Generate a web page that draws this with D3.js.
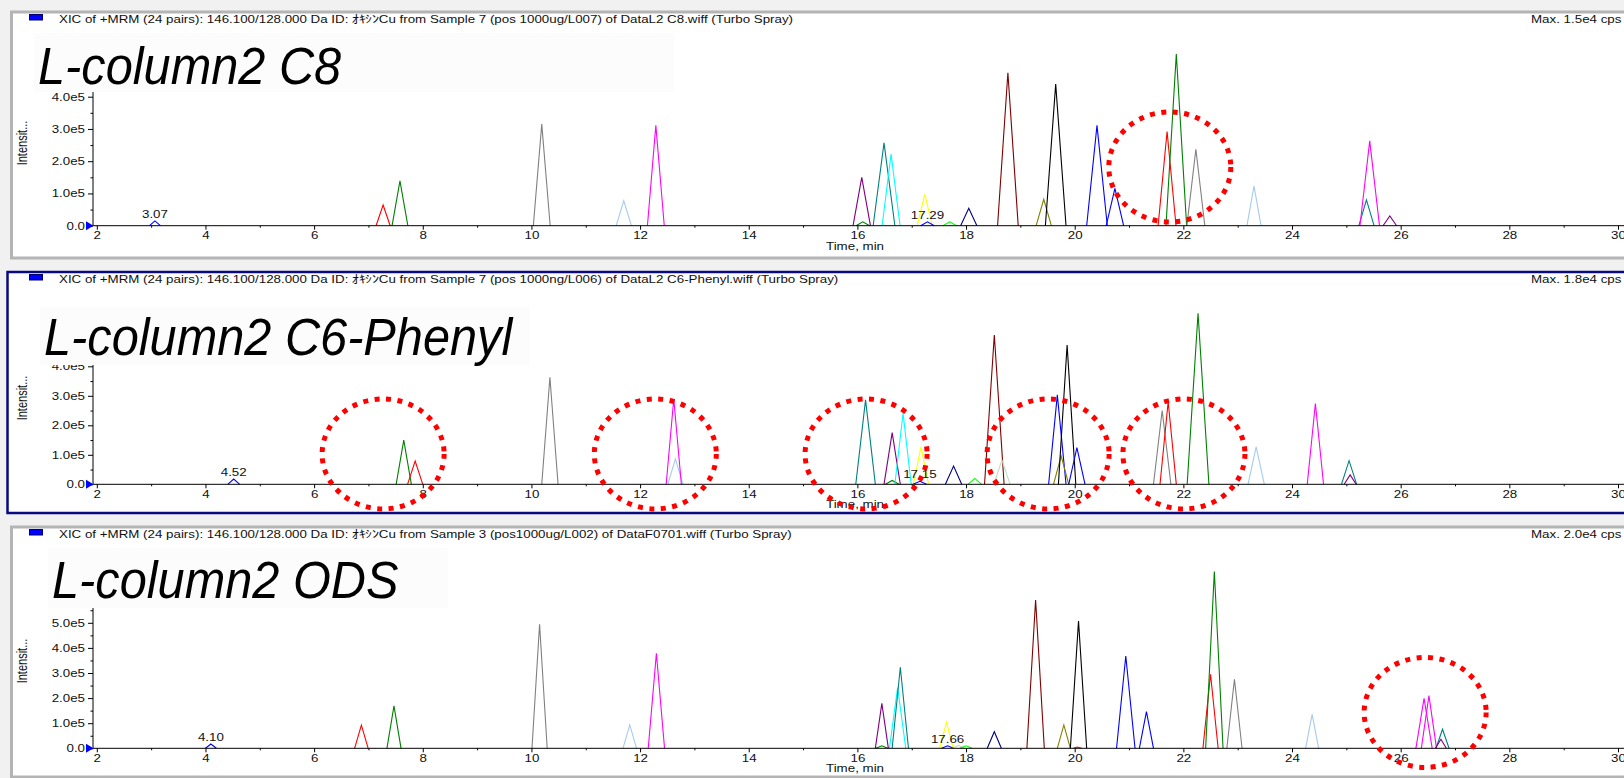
<!DOCTYPE html>
<html>
<head>
<meta charset="utf-8">
<script src="https://cdn.jsdelivr.net/npm/d3@7"></script>
<style>
  html, body { margin: 0; padding: 0; background: #f1f1f1; }
  svg { display: block; }
  text { font-family: "Liberation Sans", Arial, sans-serif; }
</style>
</head>
<body>
<svg id="chart" width="1624" height="778"></svg>
<script>
// ---------------- data ----------------
const timeTicks = [2, 4, 6, 8, 10, 12, 14, 16, 18, 20, 22, 24, 26, 28, 30];
const timeMinorTicks = [3, 5, 7, 9, 11, 13, 15, 17, 19, 21, 23, 25, 27, 29];

const intensityTicksC8 = [0, 1e5, 2e5, 3e5, 4e5];
const intensityTicksPhenyl = [0, 1e5, 2e5, 3e5, 4e5];
const intensityTicksODS = [0, 1e5, 2e5, 3e5, 4e5, 5e5];

const panelTitles = ["L-column2 C8", "L-column2 C6-Phenyl", "L-column2 ODS"];
const headerTexts = [
  "XIC of +MRM (24 pairs): 146.100/128.000 Da ID: ｵｷｼﾝCu from Sample 7 (pos 1000ug/L007) of DataL2 C8.wiff (Turbo Spray)",
  "XIC of +MRM (24 pairs): 146.100/128.000 Da ID: ｵｷｼﾝCu from Sample 7 (pos 1000ng/L006) of DataL2 C6-Phenyl.wiff (Turbo Spray)",
  "XIC of +MRM (24 pairs): 146.100/128.000 Da ID: ｵｷｼﾝCu from Sample 3 (pos1000ug/L002) of DataF0701.wiff (Turbo Spray)"
];
const maxTexts = ["Max. 1.5e4 cps", "Max. 1.8e4 cps", "Max. 2.0e4 cps"];

// Peak rows: [trace index, retention time (min), apex intensity (cps), base width (min)]
const peaksC8 = [
  [0, 3.07, 0.15e5, 0.20],
  [1, 7.27, 0.64e5, 0.26],
  [2, 7.58, 1.39e5, 0.29],
  [3, 10.19, 3.15e5, 0.31],
  [4, 11.70, 0.77e5, 0.28],
  [5, 12.29, 3.11e5, 0.31],
  [2, 16.10, 0.12e5, 0.25],
  [6, 16.08, 1.50e5, 0.32],
  [7, 16.49, 2.57e5, 0.40],
  [8, 16.62, 2.22e5, 0.33],
  [9, 17.24, 0.97e5, 0.28],
  [0, 17.29, 0.12e5, 0.25],
  [10, 17.70, 0.12e5, 0.25],
  [11, 18.05, 0.54e5, 0.30],
  [12, 18.77, 4.74e5, 0.38],
  [13, 19.43, 0.82e5, 0.28],
  [14, 19.65, 4.39e5, 0.38],
  [0, 20.41, 3.11e5, 0.38],
  [0, 20.74, 1.16e5, 0.32],
  [1, 21.70, 2.92e5, 0.33],
  [2, 21.87, 5.32e5, 0.38],
  [3, 22.23, 2.37e5, 0.33],
  [4, 23.30, 1.23e5, 0.26],
  [7, 25.37, 0.80e5, 0.28],
  [5, 25.43, 2.63e5, 0.36],
  [6, 25.80, 0.30e5, 0.25]
];
const peaksPhenyl = [
  [0, 4.52, 0.18e5, 0.22],
  [2, 7.65, 1.50e5, 0.28],
  [1, 7.86, 0.79e5, 0.28],
  [3, 10.34, 3.63e5, 0.30],
  [4, 12.65, 0.86e5, 0.28],
  [5, 12.62, 2.89e5, 0.28],
  [7, 16.15, 2.86e5, 0.36],
  [2, 16.64, 0.13e5, 0.25],
  [6, 16.64, 1.75e5, 0.30],
  [8, 16.84, 2.41e5, 0.30],
  [9, 17.17, 1.27e5, 0.28],
  [0, 17.15, 0.10e5, 0.25],
  [11, 17.77, 0.62e5, 0.30],
  [10, 18.16, 0.20e5, 0.25],
  [12, 18.52, 5.06e5, 0.36],
  [15, 18.66, 0.82e5, 0.30],
  [0, 19.68, 3.03e5, 0.32],
  [13, 19.75, 0.96e5, 0.28],
  [14, 19.86, 4.72e5, 0.32],
  [0, 20.04, 1.24e5, 0.30],
  [3, 21.61, 2.50e5, 0.32],
  [1, 21.72, 2.80e5, 0.30],
  [2, 22.27, 5.80e5, 0.40],
  [4, 23.34, 1.27e5, 0.30],
  [5, 24.43, 2.74e5, 0.30],
  [7, 25.05, 0.80e5, 0.28],
  [6, 25.07, 0.32e5, 0.22]
];
const peaksODS = [
  [0, 4.10, 0.17e5, 0.20],
  [1, 6.87, 0.92e5, 0.25],
  [2, 7.47, 1.69e5, 0.26],
  [3, 10.15, 4.94e5, 0.28],
  [4, 11.81, 0.93e5, 0.25],
  [5, 12.30, 3.78e5, 0.30],
  [2, 16.45, 0.10e5, 0.22],
  [6, 16.45, 1.79e5, 0.24],
  [8, 16.74, 2.42e5, 0.30],
  [7, 16.79, 3.23e5, 0.30],
  [9, 17.64, 1.04e5, 0.25],
  [0, 17.66, 0.10e5, 0.22],
  [15, 17.86, 0.12e5, 0.22],
  [10, 18.00, 0.10e5, 0.22],
  [11, 18.52, 0.66e5, 0.26],
  [12, 19.28, 5.91e5, 0.32],
  [13, 19.80, 0.93e5, 0.24],
  [1, 20.05, 0.05e5, 0.15],
  [14, 20.07, 5.07e5, 0.30],
  [0, 20.94, 3.68e5, 0.34],
  [0, 21.32, 1.46e5, 0.26],
  [1, 22.50, 2.95e5, 0.28],
  [2, 22.57, 7.04e5, 0.32],
  [3, 22.94, 2.75e5, 0.28],
  [4, 24.37, 1.35e5, 0.24],
  [5, 26.43, 1.99e5, 0.30],
  [5, 26.52, 2.10e5, 0.28],
  [7, 26.77, 0.76e5, 0.24],
  [6, 26.74, 0.36e5, 0.20]
];

// Retention times printed above peaks
const rtLabelsC8 = [3.07, 17.29];
const rtLabelsPhenyl = [4.52, 17.15];
const rtLabelsODS = [4.10, 17.66];

// Highlighted regions: [retention time (min), intensity (cps)] at ring centre
const ringsC8 = [[21.75, 1.82e5]];
const ringsPhenyl = [[7.27, 1.03e5], [12.28, 1.03e5], [16.16, 1.03e5], [19.51, 1.03e5], [22.01, 1.03e5]];
const ringsODS = [[26.45, 1.43e5]];

// ---------------- styles / layout ----------------
const traceColors = [
  "#0000ff", "#ff0000", "#008000", "#808080", "#a6caf0", "#ff00ff",
  "#800080", "#008080", "#00ffff", "#ffff00", "#00ff00", "#000080",
  "#800000", "#808000", "#000000", "#c0dcc0"
];

// the instrument's small print is rendered horizontally widened
const SX = 1.27;
const smallFont = 10.5;

const panels = [
  { peaks: peaksC8, ticks: intensityTicksC8, labels: rtLabelsC8, rings: ringsC8,
    top: 12, bottom: 258, frame: "#b4b4b4", frameX: 11.5, base: 225.7, pxPerUnit: 32.25,
    titleBox: [34, 33, 640, 59], titleX: 38, titleY: 83.5, intensY: 143 },
  { peaks: peaksPhenyl, ticks: intensityTicksPhenyl, labels: rtLabelsPhenyl, rings: ringsPhenyl,
    top: 272, bottom: 513, frame: "#0a0a80", frameX: 7.5, base: 484.3, pxPerUnit: 29.5,
    titleBox: [40, 307, 490, 58], titleX: 44, titleY: 355, intensY: 398 },
  { peaks: peaksODS, ticks: intensityTicksODS, labels: rtLabelsODS, rings: ringsODS,
    top: 527, bottom: 777, frame: "#b4b4b4", frameX: 11.5, base: 748.3, pxPerUnit: 25.1,
    titleBox: [48, 548, 400, 60], titleX: 52, titleY: 598, intensY: 661 }
];

const svg = d3.select("#chart");
const W = 1624;

const x = d3.scaleLinear().domain([1.93, 30]).range([93, 1618]);

const fmtIntensity = d => d === 0 ? "0.0" : (d / 1e5).toFixed(1) + "e5";

function yScaleFor(p) {
  const maxTick = d3.max(p.ticks);
  return d3.scaleLinear()
    .domain([0, maxTick])
    .range([p.base, p.base - (maxTick / 1e5) * p.pxPerUnit]);
}

panels.forEach((p, i) => {
  const g = svg.append("g");
  const maxTick = d3.max(p.ticks);
  const y = yScaleFor(p);

  // frame
  g.append("rect")
    .attr("x", p.frameX).attr("y", p.top)
    .attr("width", W + 20).attr("height", p.bottom - p.top)
    .attr("fill", "#ffffff")
    .attr("stroke", p.frame).attr("stroke-width", i === 1 ? 2.5 : 3);

  // header legend swatch and text
  g.append("rect")
    .attr("x", 29.5).attr("y", p.top + 2.5).attr("width", 13).attr("height", 5.5)
    .attr("fill", "#0000ff").attr("stroke", "#000066").attr("stroke-width", 1);
  g.append("text")
    .attr("transform", `translate(59,${p.top + 10.5}) scale(${SX},1)`)
    .attr("font-size", smallFont).attr("fill", "#111")
    .text(headerTexts[i]);
  g.append("text")
    .attr("transform", `translate(1531,${p.top + 10.5}) scale(${SX},1)`)
    .attr("font-size", smallFont).attr("fill", "#111")
    .text(maxTexts[i]);

  // chromatogram traces
  const line = d3.line().x(d => x(d[0])).y(d => y(d[1]));
  g.append("g")
    .selectAll("path")
    .data(p.peaks)
    .join("path")
    .attr("d", d => line([[d[1] - d[3] / 2, 0], [d[1], d[2]], [d[1] + d[3] / 2, 0]]))
    .attr("fill", "none")
    .attr("stroke", d => traceColors[d[0]])
    .attr("stroke-width", 1.1)
    .attr("stroke-linejoin", "miter");

  // x axis
  const xAxis = g.append("g").attr("transform", `translate(0,${p.base})`);
  xAxis.call(d3.axisBottom(x).tickValues(timeTicks).tickSize(4).tickPadding(2).tickFormat(d3.format("d")));
  xAxis.append("g").call(d3.axisBottom(x).tickValues(timeMinorTicks).tickSize(2).tickFormat(""))
    .select(".domain").remove();
  xAxis.selectAll(".domain").attr("d", `M93,0H${W + 5}`).attr("stroke", "#000");
  xAxis.selectAll("text")
    .attr("font-size", smallFont).attr("font-family", "\"Liberation Sans\", Arial, sans-serif")
    .attr("fill", "#111").attr("transform", `scale(${SX},1)`);

  // y axis
  const yAxis = g.append("g").attr("transform", "translate(93,0)");
  yAxis.call(d3.axisLeft(y).tickValues(p.ticks).tickSize(5).tickPadding(3).tickFormat(fmtIntensity));
  const minor = d3.range(0.5e5, maxTick + 0.6e5, 1e5);
  yAxis.append("g").call(d3.axisLeft(y).tickValues(minor).tickSize(2.5).tickFormat(""))
    .select(".domain").remove();
  yAxis.select(".domain").attr("d", `M0,${p.base}V${p.titleBox[1] + 20}`).attr("stroke", "#000");
  yAxis.selectAll("text")
    .attr("font-size", smallFont).attr("font-family", "\"Liberation Sans\", Arial, sans-serif")
    .attr("fill", "#111").attr("x", -8 / SX).attr("transform", `scale(${SX},1)`);

  // origin marker
  g.append("path")
    .attr("d", `M86,${p.base - 4.5}L93.5,${p.base}L86,${p.base + 4.5}Z`)
    .attr("fill", "#0000ff");

  // axis titles
  g.append("text")
    .attr("transform", `translate(27,${p.intensY}) scale(${SX},1) rotate(-90)`)
    .attr("text-anchor", "middle").attr("font-size", 11).attr("fill", "#111")
    .text("Intensit...");
  g.append("text")
    .attr("transform", `translate(826,${p.base + 24}) scale(${SX},1)`)
    .attr("font-size", smallFont).attr("fill", "#111")
    .text("Time, min");

  // retention-time labels
  g.append("g").selectAll("text")
    .data(p.labels)
    .join("text")
    .attr("transform", d => {
      const pk = p.peaks.find(r => r[0] === 0 && Math.abs(r[1] - d) < 1e-6);
      return `translate(${x(d)},${y(pk ? pk[2] : 0) - 3}) scale(${SX},1)`;
    })
    .attr("text-anchor", "middle").attr("font-size", smallFont).attr("fill", "#111")
    .text(d => d.toFixed(2));

  // panel title with its backing box
  const [bx, by, bw, bh] = p.titleBox;
  g.append("rect").attr("x", bx).attr("y", by).attr("width", bw).attr("height", bh).attr("fill", "#fcfcfc");
  g.append("text")
    .attr("transform", `translate(${p.titleX},${p.titleY}) scale(0.955,1)`)
    .attr("font-size", 51).attr("font-style", "italic").attr("fill", "#000")
    .text(panelTitles[i]);
});

// dotted highlight rings drawn on top of everything
panels.forEach(p => {
  const y = yScaleFor(p);
  svg.append("g").selectAll("ellipse")
    .data(p.rings)
    .join("ellipse")
    .attr("cx", d => x(d[0]))
    .attr("cy", d => y(d[1]))
    .attr("rx", 61).attr("ry", 55)
    .attr("fill", "none")
    .attr("stroke", "#ff0000")
    .attr("stroke-width", 5)
    .attr("stroke-dasharray", "5 6.5");
});
</script>
</body>
</html>
